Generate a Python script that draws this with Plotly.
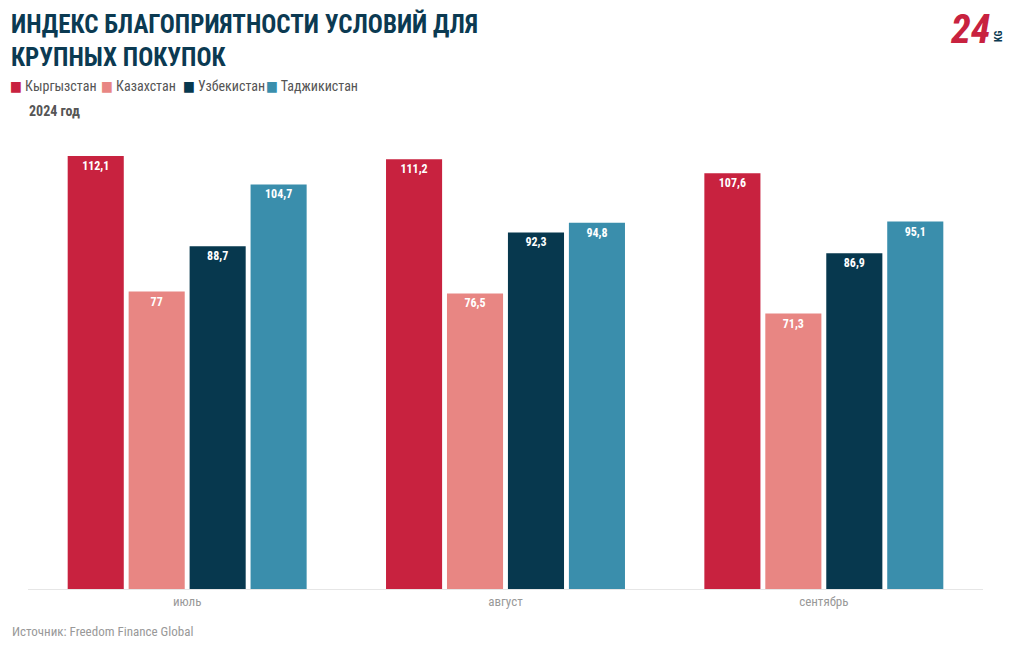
import plotly.graph_objects as go

months = ["июль", "август", "сентябрь"]
countries = ["Кыргызстан", "Казахстан", "Узбекистан", "Таджикистан"]
values = {
    "Кыргызстан": [112.1, 111.2, 107.6],
    "Казахстан": [77, 76.5, 71.3],
    "Узбекистан": [88.7, 92.3, 86.9],
    "Таджикистан": [104.7, 94.8, 95.1],
}
colors = ["#C8223F", "#E88683", "#07384E", "#3A8EAC"]

FONT = "Roboto Condensed, Liberation Sans Narrow, DejaVu Sans Condensed, Roboto, sans-serif"

W, H = 1020, 650
L, R, T, B = 28, 37, 130, 61
PW, PH = W - L - R, H - T - B


def px(x):
    return (x - L) / PW


def py(y):
    return 1 - (y - T) / PH


def fmt(v):
    return ("%g" % v).replace(".", ",")


fig = go.Figure()
for c, col in zip(countries, colors):
    fig.add_trace(go.Bar(
        name=c, x=months, y=values[c], marker_color=col, marker_line_width=0,
        text=[fmt(v) for v in values[c]], textposition="inside", insidetextanchor="end",
        textfont=dict(family=FONT, size=12, color="white", weight="bold"),
        textangle=0, hoverinfo="skip", showlegend=False,
    ))

fig.update_layout(
    width=W, height=H,
    margin=dict(l=L, r=R, t=T, b=B),
    paper_bgcolor="white", plot_bgcolor="white",
    barmode="group", bargap=0.234, bargroupgap=0.08,
    font=dict(family=FONT, color="#555"),
    showlegend=False,
    xaxis=dict(showgrid=False, showline=True, linecolor="#E6E6E6", linewidth=1,
               ticks="", tickfont=dict(family=FONT, size=13, color="#999")),
    yaxis=dict(range=[0, 118.8], visible=False, showgrid=False),
)

# title
fig.add_annotation(text="<b>ИНДЕКС БЛАГОПРИЯТНОСТИ УСЛОВИЙ ДЛЯ<br>КРУПНЫХ ПОКУПОК</b>",
                   x=px(9), xanchor="left", y=py(7), yanchor="top", align="left",
                   xref="paper", yref="paper", showarrow=False,
                   font=dict(family=FONT, size=25, color="#0B3A52"))

# legend built from series names and colours
legend_x = [10, 101, 183, 266]
for c, col, lx in zip(countries, colors, legend_x):
    fig.add_annotation(text=f"<span style='color:{col}'>■</span> {c}",
                       x=px(lx - 2), xanchor="left", y=py(86), yanchor="middle",
                       xref="paper", yref="paper", showarrow=False,
                       font=dict(family=FONT, size=14, color="#555"))

fig.add_annotation(text="<b>2024 год</b>", x=px(27), xanchor="left",
                   y=py(111), yanchor="middle", xref="paper", yref="paper",
                   showarrow=False, font=dict(family=FONT, size=14, color="#555"))
fig.add_annotation(text="Источник: Freedom Finance Global", x=px(10), xanchor="left",
                   y=py(631), yanchor="middle", xref="paper", yref="paper",
                   showarrow=False, font=dict(family=FONT, size=13, color="#999"))
# logo
fig.add_annotation(text="<b><i>24</i></b>", x=px(970), xanchor="center",
                   y=py(30), yanchor="middle", xref="paper", yref="paper",
                   showarrow=False, font=dict(family=FONT, size=40, color="#C8223F"))
fig.add_annotation(text="<b>KG</b>", x=px(999), xanchor="center",
                   y=py(36), yanchor="middle", xref="paper", yref="paper",
                   showarrow=False, textangle=-90,
                   font=dict(family=FONT, size=10, color="#0B3A52"))

fig.write_html("out.html", config={"displayModeBar": False},
               post_script="document.body.style.margin='0';document.body.style.overflow='hidden';")
